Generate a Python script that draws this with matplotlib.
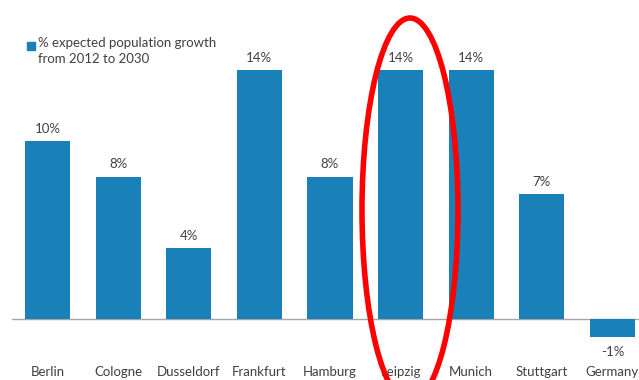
import matplotlib
matplotlib.use("Agg")
import matplotlib.pyplot as plt
from matplotlib.patches import Ellipse, Rectangle
from matplotlib.transforms import IdentityTransform

cities = ['Berlin', 'Cologne', 'Dusseldorf', 'Frankfurt', 'Hamburg',
          'Leipzig', 'Munich', 'Stuttgart', 'Germany']
growth = [10, 8, 4, 14, 8, 14, 14, 7, -1]
labels = ['10%', '8%', '4%', '14%', '8%', '14%', '14%', '7%', '-1%']

bar_color = '#1a80b8'
text_color = '#404040'
plt.rcParams['font.family'] = ['Lato', 'DejaVu Sans']

fig = plt.figure(figsize=(6.39, 3.80), dpi=100)
ax = fig.add_axes([12/639, 0, 627/639, 1])
ax.axis('off')

x = list(range(len(cities)))
bars = ax.bar(x, growth, width=0.64, color=bar_color)
ax.set_xlim(-0.503, 8.378)
ax.set_ylim(-3.43, 17.92)
ax.axhline(0, color='#a6a6a6', lw=1.0, zorder=0)

for xi, v, lab in zip(x, growth, labels):
    if v >= 0:
        ax.annotate(lab, (xi, v), xytext=(0, 4.5), textcoords='offset points',
                    ha='center', va='bottom', fontsize=9.5, color=text_color)
    else:
        ax.annotate(lab, (xi, v), xytext=(0, -6.5), textcoords='offset points',
                    ha='center', va='top', fontsize=9.5, color=text_color)
    ax.text(xi, -2.98, cities[xi], ha='center', va='center',
            fontsize=9.5, color=text_color)

# legend
fig.patches.append(Rectangle((27, 380-50), 8, 8, color=bar_color,
                             transform=IdentityTransform(), figure=fig))
fig.text(38/639, 1-37/380, '% expected population growth\nfrom 2012 to 2030',
         ha='left', va='top', fontsize=9.5, color=text_color, linespacing=1.4)

# red highlight ellipse
fig.patches.append(Ellipse((410, 380-210), 96, 384, fill=False,
                           edgecolor='#ff0000', lw=4.0,
                           transform=IdentityTransform(), figure=fig))

fig.savefig('out.png', dpi=100)
